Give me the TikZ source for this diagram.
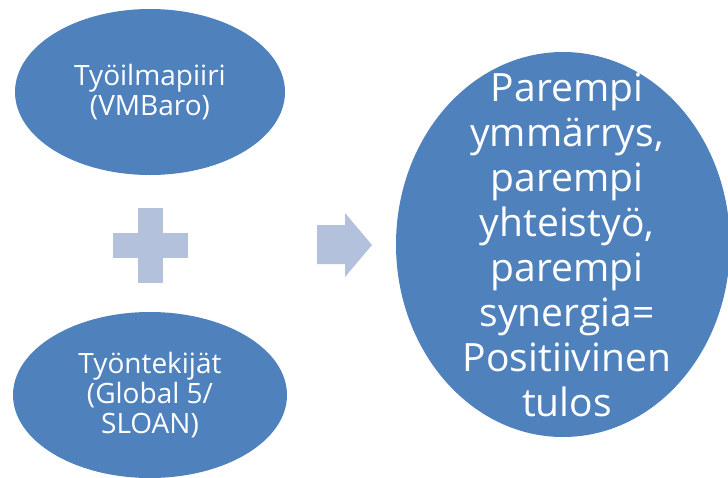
\documentclass[tikz,border=0pt]{standalone}
\usepackage{fontspec}
\setmainfont{Open Sans}
\usetikzlibrary{shapes.geometric}

\begin{document}
\begin{tikzpicture}[x=1pt, y=-1pt,
  blob/.style={ellipse, fill=blobcolor, draw=none, inner sep=0pt},
  blobtext/.style={text=white, align=center, inner sep=0pt},
  signcolor/.style={fill=markcolor, draw=none}]

  % Colors
  \definecolor{blobcolor}{HTML}{4F81BD} % ellipses
  \definecolor{markcolor}{HTML}{B3C1DC} % plus and arrow

  \def\arm{12.5} % half width of a plus arm
  \def\plen{37.5} % half length of the plus

  % canvas
  \useasboundingbox (0,0) rectangle (728,477);

  % LEFT: the two inputs
  \node[blob, minimum width=270pt, minimum height=166pt] (ilmapiiri) at (150,92) {};
  \node[blobtext, font=\fontsize{28}{30}\selectfont] (ilmapiiritxt) at (ilmapiiri.center)
    {Työilmapiiri\\(VMBaro)};

  \node[blob, minimum width=274pt, minimum height=166pt] (tyontekijat) at (150,395) {};
  \node[blobtext, font=\fontsize{28}{30}\selectfont] (tyontekijattxt) at (tyontekijat.center)
    {Työntekijät\\(Global 5/\\SLOAN)};

  % Plus between them
  \coordinate (plus) at (150.5,245);
  \fill[signcolor] ([xshift=-\arm pt, yshift=\plen pt]plus) rectangle ([xshift=\arm pt, yshift=-\plen pt]plus);
  \fill[signcolor] ([xshift=-\plen pt, yshift=\arm pt]plus) rectangle ([xshift=\plen pt, yshift=-\arm pt]plus);

  % Arrow to the result
  \coordinate (tip) at (372,245);
  \fill[signcolor] (317,225) -- (345,225) -- (345,213) -- (tip) -- (345,277)
    -- (345,264) -- (317,264) -- cycle;

  % RIGHT: the result
  \node[blob, minimum width=334pt, minimum height=385pt] (tulos) at (563,244.5) {};
  \node[blobtext, font=\fontsize{39}{45}\selectfont] (tulostxt) at ([xshift=4pt]tulos.center)
    {Parempi\\ymmärrys,\\parempi\\yhteistyö,\\parempi\\synergia=\\Positiivinen\\tulos};

\end{tikzpicture}
\end{document}
